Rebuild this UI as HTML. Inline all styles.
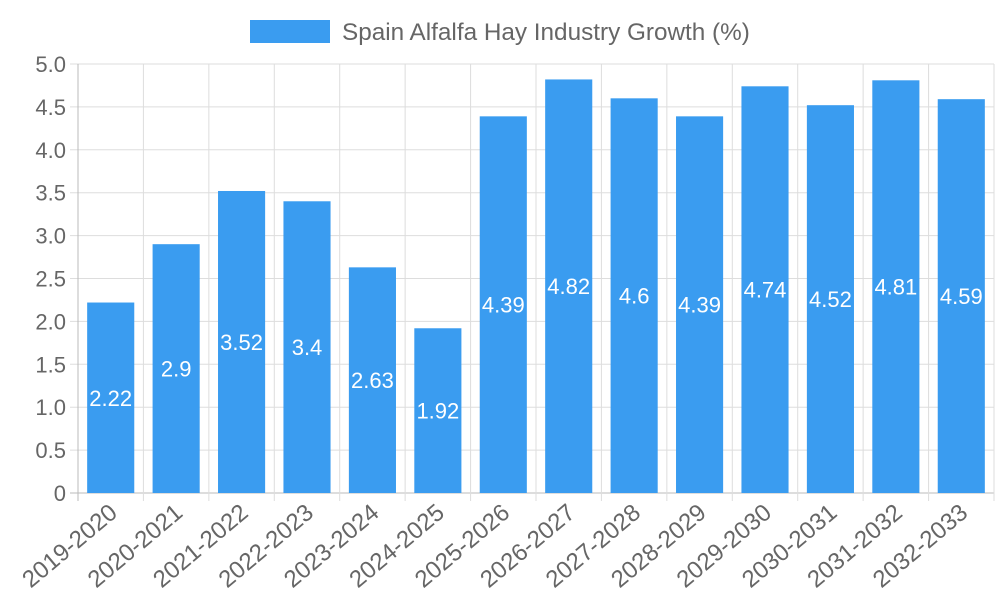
<!DOCTYPE html>
<html><head><meta charset="utf-8"><style>
html,body{margin:0;padding:0;background:#fff;}
svg text{font-family:"Liberation Sans",sans-serif;}
</style></head><body>
<svg id="chart" width="1000" height="600">
<g>
<rect x="250" y="20" width="80" height="23" fill="#3a9cf0"></rect>
<text x="342" y="40" font-size="24.3" fill="#666">Spain Alfalfa Hay Industry Growth (%)</text>
</g>
<g id="grid"></g>
<g id="bars"></g>
<g id="labels"></g>
</svg>
<script>
const categories=["2019-2020","2020-2021","2021-2022","2022-2023","2023-2024","2024-2025","2025-2026","2026-2027","2027-2028","2028-2029","2029-2030","2030-2031","2031-2032","2032-2033"];
const values=[2.22,2.9,3.52,3.4,2.63,1.92,4.39,4.82,4.6,4.39,4.74,4.52,4.81,4.59];
const yTicks=[0,0.5,1,1.5,2,2.5,3,3.5,4,4.5,5];
const yTickLabels=["0","0.5","1.0","1.5","2.0","2.5","3.0","3.5","4.0","4.5","5.0"];
const NS="http://www.w3.org/2000/svg";
const L=78,R=994,T=64,B=493,yMax=5;
const step=(R-L)/categories.length;
const y=v=>B-(v/yMax)*(B-T);
const xc=i=>L+step*(i+0.5);
function mk(tag,attrs,parent){const e=document.createElementNS(NS,tag);for(const k in attrs)e.setAttribute(k,attrs[k]);parent.appendChild(e);return e;}
const grid=document.getElementById('grid'),bars=document.getElementById('bars'),labels=document.getElementById('labels');
yTicks.forEach((t,i)=>{
 const ln=mk('line',{x1:L-8,x2:R,y1:y(t),y2:y(t),stroke:i===0?'#bbb':'#ddd','stroke-width':1},grid);
 
 
 const tx=mk('text',{x:L-12,y:y(t)+8,'text-anchor':'end','font-size':22,fill:'#666'},grid);
 tx.textContent=yTickLabels[i];
 
 
});
for(let i=0;i<=categories.length;i++){
 const x=L+step*i;
 const ln=mk('line',{x1:x,x2:x,y1:T,y2:B+8,stroke:i===0?'#bbb':'#ddd','stroke-width':1},grid);
 
 
}
const bw=step*0.72;
categories.forEach((c,i)=>{
 const v=values[i];
 const r=mk('rect',{x:xc(i)-bw/2,y:y(v),width:bw,height:B-y(v),fill:'#3a9cf0'},bars);
 
 
 const vt=mk('text',{x:xc(i),y:(y(v)+B)/2+8,'text-anchor':'middle','font-size':22,fill:'#fff'},bars);
 vt.textContent=String(v);
 
 
 const lt=mk('text',{x:0,y:0,'text-anchor':'end','font-size':24,fill:'#666',transform:`translate(${xc(i)+8},${B+22}) rotate(-40)`},labels);
 lt.textContent=c;
 
 
});
</script>
</body></html>
